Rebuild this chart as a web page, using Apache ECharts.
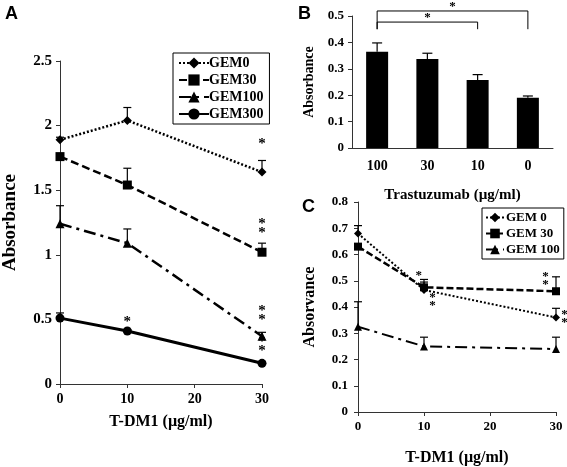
<!DOCTYPE html>
<html><head><meta charset="utf-8">
<script src="https://cdn.jsdelivr.net/npm/echarts@6/dist/echarts.min.js"></script>
<style>html,body{margin:0;padding:0;background:#fff}#c{width:567px;height:467px}</style>
</head><body><div id="c"></div>
<script>
// ---- Panel A data ----
var aX = [0, 10, 30];
var aNames = ['GEM0', 'GEM30', 'GEM100', 'GEM300'];
var aGEM0 = [1.89, 2.04, 1.64];
var aGEM30 = [1.76, 1.54, 1.02];
var aGEM100 = [1.24, 1.09, 0.37];
var aGEM300 = [0.51, 0.41, 0.16];
var aErr0 = [0.02, 0.10, 0.09];
var aErr30 = [0.02, 0.13, 0.07];
var aErr100 = [0.14, 0.11, 0.03];
var aErr300 = [0.04, 0.01, 0.01];
var aYTicks = [0, 0.5, 1, 1.5, 2, 2.5];
var aStars = [[30, 1.86, '*'], [30, 1.2, '*\n*'], [30, 0.53, '*\n*'], [30, 0.29, '*\n*'], [10, 0.48, '*']];

// ---- Panel B data ----
var bCats = ['100', '30', '10', '0'];
var bVals = [0.365, 0.337, 0.258, 0.19];
var bErr = [0.033, 0.022, 0.02, 0.007];
var bBrackets = [[0, 3, 0.519, 0.45], [0, 2, 0.477, 0.45]];

// ---- Panel C data ----
var cX = [0, 10, 30];
var cNames = ['GEM 0', 'GEM 30', 'GEM 100'];
var cGEM0 = [0.68, 0.465, 0.36];
var cGEM30 = [0.63, 0.475, 0.46];
var cGEM100 = [0.325, 0.25, 0.24];
var cErr0 = [0.03, 0.03, 0.035];
var cErr30 = [0.01, 0.03, 0.055];
var cErr100 = [0.095, 0.035, 0.045];
var cStars = [[9.2, 0.52, '*'], [11.3, 0.42, '*\n*'], [28.4, 0.5, '*\n*'], [31.3, 0.355, '*\n*']];

var SERIF = '"Liberation Serif","Times New Roman",serif';
var AX = '#333';

function pairs(xs, ys) { return xs.map(function (x, i) { return [x, ys[i]]; }); }
function errData(xs, ys, es) { return xs.map(function (x, i) { return [x, ys[i], ys[i] + es[i]]; }); }

function errSeries(data, xi, yi, cap) {
  return {
    type: 'custom', xAxisIndex: xi, yAxisIndex: yi, data: data, silent: true, z: 1,
    renderItem: function (params, api) {
      var p0 = api.coord([api.value(0), api.value(1)]);
      var p1 = api.coord([api.value(0), api.value(2)]);
      var st = { stroke: '#000', lineWidth: 1.2 };
      return { type: 'group', children: [
        { type: 'line', shape: { x1: p0[0], y1: p0[1], x2: p1[0], y2: p1[1] }, style: st },
        { type: 'line', shape: { x1: p1[0] - cap, y1: p1[1], x2: p1[0] + cap, y2: p1[1] }, style: st }
      ] };
    }
  };
}
function textSeries(data, xi, yi, size) {
  return {
    type: 'custom', xAxisIndex: xi, yAxisIndex: yi, data: data, silent: true, clip: false, z: 5,
    renderItem: function (params, api) {
      var p = api.coord([api.value(0), api.value(1)]);
      return { type: 'text', x: p[0], y: p[1], style: { text: data[params.dataIndex][2], font: 'bold ' + size + 'px ' + SERIF, fill: '#000', align: 'center', verticalAlign: 'middle', lineHeight: size * 0.6 } };
    }
  };
}

function valAxisX(gi, nameGap, fs, lfs) {
  return { type: 'value', gridIndex: gi, min: 0, max: 30, interval: 10, name: 'T-DM1 (µg/ml)', nameLocation: 'middle', nameGap: nameGap,
    nameTextStyle: { fontFamily: SERIF, fontWeight: 'bold', fontSize: fs, color: '#000' },
    axisLine: { lineStyle: { color: AX, width: 1 } }, axisTick: { show: true, length: 4, lineStyle: { color: AX } },
    axisLabel: { fontFamily: SERIF, fontWeight: 'bold', fontSize: lfs, color: '#000', margin: 8 }, splitLine: { show: false } };
}

function lineS(name, data, xi, yi, symbol, size, dash, width) {
  return { type: 'line', name: name, xAxisIndex: xi, yAxisIndex: yi, data: data, symbol: symbol, symbolSize: size,
    itemStyle: { color: '#000' }, lineStyle: { color: '#000', width: width, type: dash }, z: 3 };
}

var chart = echarts.init(document.getElementById('c'), null, { renderer: 'canvas' });
var option = {
  animation: false,
  backgroundColor: '#fff',
  title: [
    { text: 'A', left: 0, top: 0, textStyle: { fontFamily: 'Liberation Sans, Arial', fontWeight: 'bold', fontSize: 18, color: '#000' } },
    { text: 'B', left: 293, top: 0, textStyle: { fontFamily: 'Liberation Sans, Arial', fontWeight: 'bold', fontSize: 18, color: '#000' } },
    { text: 'C', left: 297, top: 193, textStyle: { fontFamily: 'Liberation Sans, Arial', fontWeight: 'bold', fontSize: 18, color: '#000' } }
  ],
  legend: [
    { data: aNames, orient: 'vertical', left: 173, top: 53, borderColor: '#000', borderWidth: 1, padding: [3, 6, 3, 5], itemGap: 3,
      itemWidth: 30, itemHeight: 14, textStyle: { fontFamily: SERIF, fontWeight: 'bold', fontSize: 14, color: '#000', padding: [0, 0, 0, -5] } },
    { data: cNames, orient: 'vertical', left: 482, top: 208, borderColor: '#000', borderWidth: 1, padding: [3, 4, 3, 3], itemGap: 3,
      itemWidth: 18, itemHeight: 12, textStyle: { fontFamily: SERIF, fontWeight: 'bold', fontSize: 13, color: '#000', padding: [0, 0, 0, -3] } }
  ],
  grid: [
    { left: 56, top: 61, width: 206, height: 323 },
    { left: 352, top: 16, width: 201, height: 132 },
    { left: 358, top: 202, width: 198, height: 219 }
  ],
  xAxis: [
    valAxisX(0, 30, 16, 14),
    { type: 'category', gridIndex: 1, data: bCats, name: 'Trastuzumab (µg/ml)', nameLocation: 'middle', nameGap: 40,
      nameTextStyle: { fontFamily: SERIF, fontWeight: 'bold', fontSize: 15, color: '#000' },
      axisLine: { lineStyle: { color: AX } }, axisTick: { length: 4, lineStyle: { color: AX } },
      axisLabel: { fontFamily: SERIF, fontWeight: 'bold', fontSize: 14, color: '#000', margin: 11 } },
    valAxisX(2, 38, 16, 13)
  ],
  yAxis: [
    { type: 'value', gridIndex: 0, min: 0, max: 2.5, interval: 0.5, name: 'Absorbance', nameLocation: 'middle', nameGap: 40,
      nameTextStyle: { fontFamily: SERIF, fontWeight: 'bold', fontSize: 19, color: '#000' },
      axisLine: { show: true, lineStyle: { color: AX } }, axisTick: { show: true, length: 4, lineStyle: { color: AX } },
      axisLabel: { fontFamily: SERIF, fontWeight: 'bold', fontSize: 15, color: '#000', margin: 8, formatter: function (v) { return aYTicks.indexOf(v) >= 0 ? String(v) : ''; } },
      splitLine: { show: false } },
    { type: 'value', gridIndex: 1, min: 0, max: 0.5, interval: 0.1, name: 'Absorbance', nameLocation: 'middle', nameGap: 36,
      nameTextStyle: { fontFamily: SERIF, fontWeight: 'bold', fontSize: 14, color: '#000' },
      axisLine: { show: true, lineStyle: { color: AX } }, axisTick: { show: true, length: 4, lineStyle: { color: AX } },
      axisLabel: { fontFamily: SERIF, fontWeight: 'bold', fontSize: 13, color: '#000', margin: 8 }, splitLine: { show: false } },
    { type: 'value', gridIndex: 2, min: 0, max: 0.8, interval: 0.1, name: 'Absorvance', nameLocation: 'middle', nameGap: 40,
      nameTextStyle: { fontFamily: SERIF, fontWeight: 'bold', fontSize: 16, color: '#000' },
      axisLine: { show: true, lineStyle: { color: AX } }, axisTick: { show: true, length: 4, lineStyle: { color: AX } },
      axisLabel: { fontFamily: SERIF, fontWeight: 'bold', fontSize: 13, color: '#000', margin: 10 }, splitLine: { show: false } }
  ],
  series: [
    errSeries(errData(aX, aGEM0, aErr0), 0, 0, 4),
    errSeries(errData(aX, aGEM30, aErr30), 0, 0, 4),
    errSeries(errData(aX, aGEM100, aErr100), 0, 0, 4),
    errSeries(errData(aX, aGEM300, aErr300), 0, 0, 4),
    lineS(aNames[0], pairs(aX, aGEM0), 0, 0, 'diamond', 9, [2, 2], 2.5),
    lineS(aNames[1], pairs(aX, aGEM30), 0, 0, 'rect', 9, [8, 4], 2.5),
    lineS(aNames[2], pairs(aX, aGEM100), 0, 0, 'triangle', 9, [12, 5, 3, 5], 2.5),
    lineS(aNames[3], pairs(aX, aGEM300), 0, 0, 'circle', 9, 'solid', 3),
    textSeries(aStars, 0, 0, 15),
    { type: 'bar', xAxisIndex: 1, yAxisIndex: 1, data: bVals, barWidth: 22, itemStyle: { color: '#000' }, z: 2 },
    errSeries(bCats.map(function (c, i) { return [i, bVals[i], bVals[i] + bErr[i]]; }), 1, 1, 5),
    { type: 'custom', xAxisIndex: 1, yAxisIndex: 1, data: bBrackets, clip: false, silent: true, z: 5,
      renderItem: function (params, api) {
        var a = api.coord([api.value(0), api.value(2)]);
        var b = api.coord([api.value(1), api.value(2)]);
        var d = api.coord([api.value(0), api.value(3)])[1];
        return { type: 'group', children: [
          { type: 'polyline', shape: { points: [[a[0], d], [a[0], a[1]], [b[0], b[1]], [b[0], d]] }, style: { stroke: '#000', lineWidth: 1, fill: null } },
          { type: 'text', x: (a[0] + b[0]) / 2, y: a[1] - 4, style: { text: '*', font: 'bold 13px ' + SERIF, fill: '#000', align: 'center', verticalAlign: 'middle' } }
        ] };
      } },
    errSeries(errData(cX, cGEM0, cErr0), 2, 2, 4),
    errSeries(errData(cX, cGEM30, cErr30), 2, 2, 4),
    errSeries(errData(cX, cGEM100, cErr100), 2, 2, 4),
    lineS(cNames[0], pairs(cX, cGEM0), 2, 2, 'diamond', 8, [2, 2], 2),
    lineS(cNames[1], pairs(cX, cGEM30), 2, 2, 'rect', 8, [7, 3], 2.5),
    lineS(cNames[2], pairs(cX, cGEM100), 2, 2, 'triangle', 8, [12, 5, 3, 5], 2),
    textSeries(cStars, 2, 2, 13)
  ]
};
chart.setOption(option);
</script></body></html>
